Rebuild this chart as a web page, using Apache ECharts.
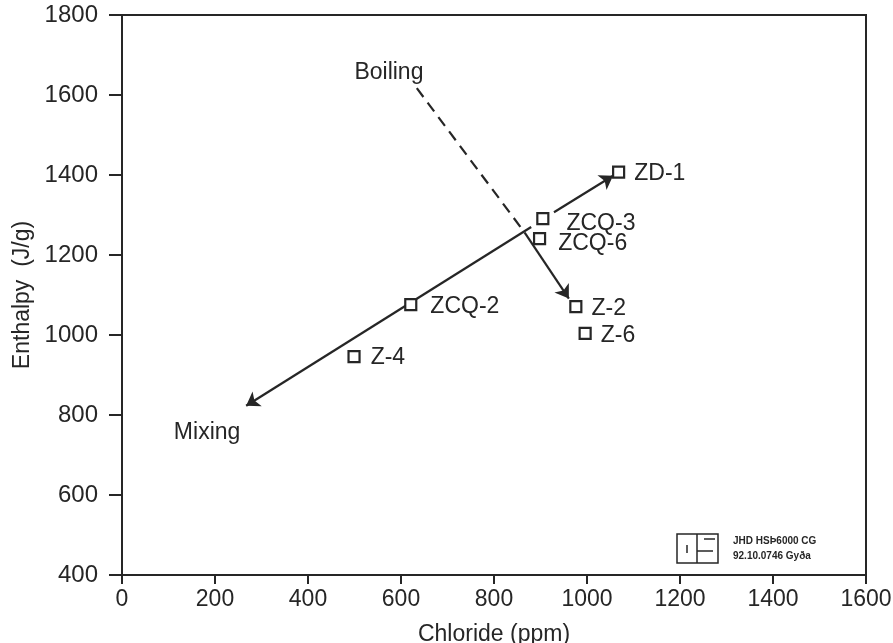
<!DOCTYPE html>
<html>
<head>
<meta charset="utf-8">
<script src="https://cdn.jsdelivr.net/npm/echarts@6/dist/echarts.min.js"></script>
<style>
html,body{margin:0;padding:0;background:#fff;}
#chart{width:893px;height:643px;}
</style>
</head>
<body>
<div id="chart"></div>
<script>
// ---- data ----
const wellNames = ['ZD-1', 'ZCQ-3', 'ZCQ-6', 'ZCQ-2', 'Z-2', 'Z-6', 'Z-4'];
const chloride  = [1068, 905, 898, 621, 976, 996, 499];
const enthalpy  = [1407, 1291, 1241, 1076, 1071, 1004, 946];

// trend arrows (chloride, enthalpy)
const mixingLower   = [[880, 1270], [267, 823]];
const mixingUpper   = [[929, 1307], [1056, 1398]];
const boilingDashed = [[634, 1617], [866, 1256]];
const boilingSolid  = [[866, 1256], [961, 1091]];

// annotation texts (chloride, enthalpy)
const annoNames = ['Boiling', 'Mixing'];
const annoX = [574, 183];
const annoY = [1657, 755];

const xTicks = { min: 0, max: 1600, step: 200 };
const yTicks = { min: 400, max: 1800, step: 200 };

// ---- styling (not data) ----
const FONT = "'Liberation Sans', Arial, Helvetica, sans-serif";
const INK = '#262626';
const labelTweak = {
  'ZD-1':  { d: 9,  dy: 1 },
  'ZCQ-3': { d: 17, dy: 5 },
  'ZCQ-6': { d: 12, dy: 5 },
  'ZCQ-2': { d: 13, dy: 2 },
  'Z-2':   { d: 9,  dy: 2 },
  'Z-6':   { d: 9,  dy: 2 },
  'Z-4':   { d: 10, dy: 1 }
};

const wellData = wellNames.map((n, i) => ({
  name: n,
  value: [chloride[i], enthalpy[i]],
  label: { distance: labelTweak[n].d, offset: [0, labelTweak[n].dy] }
}));
const annoData = annoNames.map((n, i) => ({ name: n, value: [annoX[i], annoY[i]] }));

function arrowLine(coords, dashed, withArrow) {
  return {
    type: 'lines',
    coordinateSystem: 'cartesian2d',
    silent: true,
    z: 2,
    symbol: withArrow ? ['none', 'arrow'] : ['none', 'none'],
    symbolSize: 13,
    lineStyle: { color: INK, width: 2.2, opacity: 1, type: dashed ? [11, 7] : 'solid', curveness: 0 },
    data: [{ coords: coords }]
  };
}

const chart = echarts.init(document.getElementById('chart'));
chart.setOption({
  animation: false,
  backgroundColor: '#fff',
  textStyle: { fontFamily: FONT },
  grid: {
    left: 122, right: 27, top: 15, bottom: 68,
    containLabel: false, outerBoundsMode: 'none',
    show: true, borderColor: INK, borderWidth: 2, backgroundColor: 'transparent'
  },
  xAxis: {
    type: 'value', min: xTicks.min, max: xTicks.max, interval: xTicks.step,
    name: 'Chloride (ppm)', nameLocation: 'middle', nameGap: 48,
    nameTextStyle: { fontSize: 23, color: INK, fontFamily: FONT },
    axisLine: { show: true, lineStyle: { color: INK, width: 2 } },
    axisTick: { show: true, length: 9, lineStyle: { color: INK, width: 2 } },
    axisLabel: { fontSize: 23, color: INK, margin: 13, fontFamily: FONT, formatter: v => String(v) },
    splitLine: { show: false }
  },
  yAxis: {
    type: 'value', min: yTicks.min, max: yTicks.max, interval: yTicks.step,
    name: 'Enthalpy  (J/g)', nameLocation: 'middle', nameGap: 86,
    nameTextStyle: { fontSize: 23, color: INK, fontFamily: FONT },
    axisLine: { show: true, lineStyle: { color: INK, width: 2 } },
    axisTick: { show: true, length: 13, lineStyle: { color: INK, width: 2 } },
    axisLabel: { fontSize: 24, color: INK, margin: 24, fontFamily: FONT, formatter: v => String(v) },
    splitLine: { show: false }
  },
  series: [
    arrowLine(mixingLower, false, true),
    arrowLine(mixingUpper, false, true),
    arrowLine(boilingDashed, true, false),
    arrowLine(boilingSolid, false, true),
    {
      type: 'scatter', name: 'Wells', z: 5,
      symbol: 'rect', symbolSize: 11,
      itemStyle: { color: '#fff', borderColor: INK, borderWidth: 2.2, opacity: 1 },
      label: { show: true, position: 'right', formatter: '{b}', fontSize: 23, color: INK, fontFamily: FONT },
      data: wellData
    },
    {
      type: 'scatter', name: 'Annotations', z: 6, symbolSize: 0, silent: true,
      itemStyle: { opacity: 1, color: INK },
      label: { show: true, position: 'inside', formatter: '{b}', fontSize: 23, color: INK, opacity: 1, fontFamily: FONT },
      data: annoData
    }
  ],
  graphic: [
    { type: 'rect', shape: { x: 677, y: 534, width: 41, height: 29 }, style: { fill: 'none', stroke: INK, lineWidth: 1.5 } },
    { type: 'line', shape: { x1: 697, y1: 534, x2: 697, y2: 563 }, style: { stroke: INK, lineWidth: 1.5 } },
    { type: 'line', shape: { x1: 687, y1: 545, x2: 687, y2: 553 }, style: { stroke: INK, lineWidth: 1.5 } },
    { type: 'polyline', shape: { points: [[704, 539], [715, 539]] }, style: { stroke: INK, lineWidth: 1.5, fill: 'none' } },
    { type: 'polyline', shape: { points: [[697, 551], [713, 551]] }, style: { stroke: INK, lineWidth: 1.5, fill: 'none' } },
    { type: 'text', left: 733, top: 536, style: { text: 'JHD HSÞ6000 CG', font: 'bold 10px ' + FONT, fill: INK } },
    { type: 'text', left: 733, top: 551, style: { text: '92.10.0746 Gyða', font: 'bold 10px ' + FONT, fill: INK } }
  ]
});
</script>
</body>
</html>
